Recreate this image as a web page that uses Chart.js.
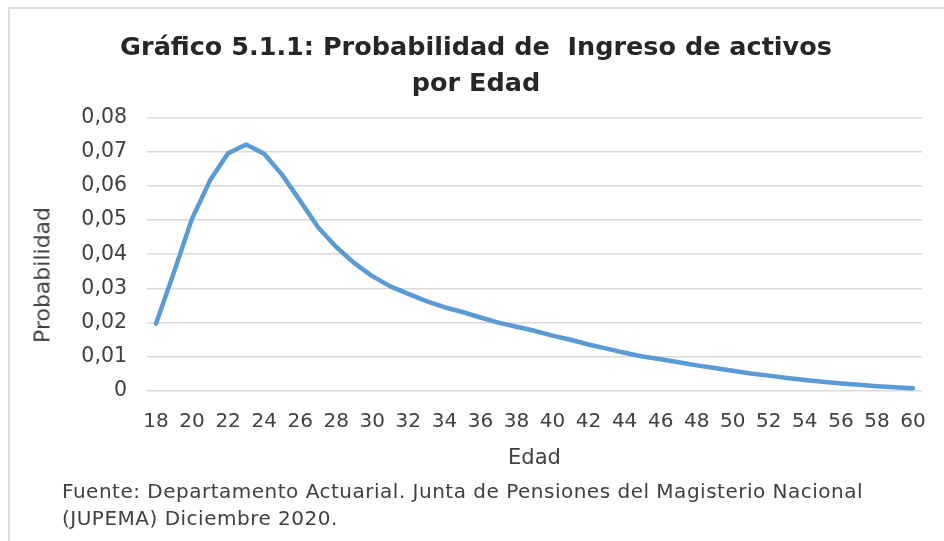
<!DOCTYPE html>
<html>
<head>
<meta charset="utf-8">
<script src="https://cdn.jsdelivr.net/npm/chart.js@4/dist/chart.umd.min.js"></script>
<style>
	body { margin: 0; background: #fff; }
	#wrap { position: relative; width: 944px; height: 541px; overflow: hidden; }
	#frame { position: absolute; left: 8px; top: 7px; width: 960px; height: 560px; border-left: 2px solid #dcdcdc; border-top: 2px solid #dcdcdc; }
	#chart { position: absolute; left: 0; top: 0; }
	#ytitulo { position: absolute; left: 42px; top: 275px; transform: translate(-50%, -50%) rotate(-90deg); white-space: nowrap;
		font-family: 'DejaVu Sans', sans-serif; font-size: 22px; color: #404040; }
	#fuente { position: absolute; left: 62px; top: 478px; font-family: 'DejaVu Sans', sans-serif; font-size: 20px; letter-spacing: 0.5px; line-height: 27px; color: #404040; }
</style>
</head>
<body>
<div id="wrap">
	<div id="frame"></div>
	<canvas id="chart" width="944" height="541"></canvas>
	<div id="ytitulo">Probabilidad</div>
	<div id="fuente">Fuente: Departamento Actuarial. Junta de Pensiones del Magisterio Nacional<br>(JUPEMA) Diciembre 2020.</div>
</div>
<script>
// edades 18..60
const edades = [18, 19, 20, 21, 22, 23, 24, 25, 26, 27, 28, 29, 30, 31, 32, 33, 34, 35, 36, 37, 38, 39,
	40, 41, 42, 43, 44, 45, 46, 47, 48, 49, 50, 51, 52, 53, 54, 55, 56, 57, 58, 59, 60];

const probabilidad = [0.0197, 0.0348, 0.0504, 0.0616, 0.0695, 0.0721, 0.0694, 0.0632, 0.0556, 0.0478,
	0.0421, 0.0374, 0.0336, 0.0306, 0.0284, 0.0263, 0.0245, 0.0231, 0.0215, 0.0200, 0.0188, 0.0176,
	0.0162, 0.0150, 0.0136, 0.0124, 0.0112, 0.0101, 0.0093, 0.0084, 0.0075, 0.0067, 0.0059, 0.0051,
	0.0045, 0.0038, 0.0032, 0.0027, 0.0022, 0.0018, 0.0014, 0.0011, 0.0008];

const yTicks = [0, 0.01, 0.02, 0.03, 0.04, 0.05, 0.06, 0.07, 0.08];

const tituloLineas = ['Gráfico 5.1.1: Probabilidad de  Ingreso de activos', 'por Edad'];

const font = 'DejaVu Sans';

const ctx = document.getElementById('chart').getContext('2d');

new Chart(ctx, {
	type: 'line',
	data: {
		labels: edades,
		datasets: [{
			label: 'Probabilidad',
			data: probabilidad,
			borderColor: '#5b9bd5',
			borderWidth: 4.5,
			pointRadius: 0,
			tension: 0,
			borderCapStyle: 'round',
			borderJoinStyle: 'round',
			fill: false
		}]
	},
	options: {
		responsive: false,
		animation: false,
		layout: {
			padding: { left: 30, right: 22, top: 0, bottom: 66 }
		},
		plugins: {
			legend: { display: false },
			tooltip: { enabled: false },
			title: {
				display: true,
				text: tituloLineas,
				color: '#262626',
				font: { family: font, size: 25.5, weight: 'bold', lineHeight: 1.42 },
				padding: { top: 30, bottom: 15 }
			}
		},
		scales: {
			x: {
				offset: true,
				grid: { display: false },
				border: { display: false },
				ticks: {
					autoSkip: false,
					maxRotation: 0,
					color: '#404040',
					font: { family: font, size: 20 },
					padding: 11,
					callback: function (value, index) {
						return index % 2 === 0 ? edades[index] : '';
					}
				},
				title: {
					display: true,
					text: 'Edad',
					color: '#404040',
					font: { family: font, size: 21 },
					padding: { top: 6 }
				},
				afterFit: function (scale) { scale.height = 84; }
			},
			y: {
				min: 0,
				max: 0.08,
				afterBuildTicks: function (scale) {
					scale.ticks = yTicks.map(v => ({ value: v }));
				},
				grid: { color: '#d9d9d9', lineWidth: 1.5, drawTicks: false },
				border: { display: false },
				ticks: {
					color: '#404040',
					font: { family: font, size: 20.5 },
					padding: 20,
					callback: function (value) {
						return value === 0 ? '0' : value.toFixed(2).replace('.', ',');
					}
				},
				afterFit: function (scale) { scale.width = 117; }
			}
		}
	}
});
</script>
</body>
</html>
